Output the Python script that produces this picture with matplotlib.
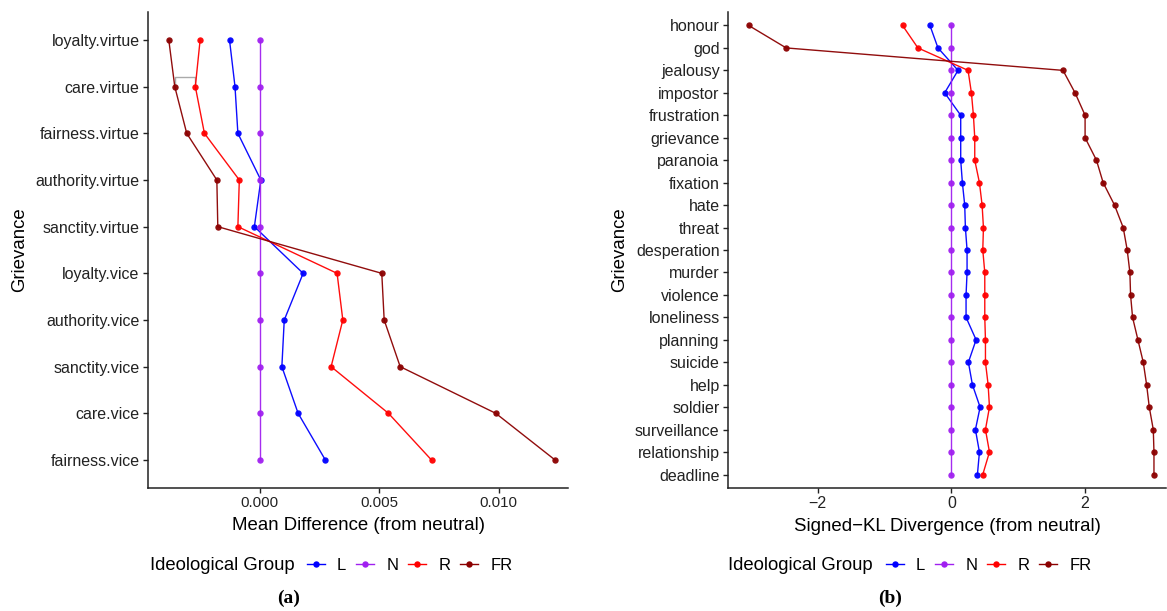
import matplotlib
matplotlib.use("Agg")
import matplotlib.pyplot as plt
from matplotlib.lines import Line2D

plt.rcParams['font.family'] = ['Liberation Sans', 'DejaVu Sans']

# ---------------- data ----------------
moral_cats = ["loyalty.virtue", "care.virtue", "fairness.virtue", "authority.virtue",
              "sanctity.virtue", "loyalty.vice", "authority.vice", "sanctity.vice",
              "care.vice", "fairness.vice"]
moral_L = [-0.00126, -0.00103, -0.00091, 0.00005, -0.00022, 0.00182, 0.00103, 0.00093, 0.00161, 0.00275]
moral_N = [0, 0, 0, 0, 0, 0, 0, 0, 0, 0]
moral_R = [-0.00249, -0.00269, -0.00231, -0.00085, -0.00091, 0.00324, 0.00348, 0.00299, 0.00539, 0.00719]
moral_FR = [-0.00380, -0.00355, -0.00305, -0.00179, -0.00175, 0.00511, 0.00521, 0.00588, 0.00988, 0.01236]

griev_cats = ["honour", "god", "jealousy", "impostor", "frustration", "grievance", "paranoia",
              "fixation", "hate", "threat", "desperation", "murder", "violence", "loneliness",
              "planning", "suicide", "help", "soldier", "surveillance", "relationship", "deadline"]
griev_L = [-0.32, -0.20, 0.10, -0.10, 0.14, 0.14, 0.14, 0.165, 0.20, 0.21, 0.235, 0.235, 0.22,
           0.22, 0.37, 0.255, 0.315, 0.43, 0.36, 0.42, 0.39]
griev_N = [0.0] * 21
griev_R = [-0.73, -0.50, 0.25, 0.30, 0.33, 0.35, 0.35, 0.42, 0.46, 0.48, 0.47, 0.50, 0.50,
           0.50, 0.51, 0.51, 0.55, 0.57, 0.51, 0.57, 0.47]
griev_FR = [-3.03, -2.47, 1.67, 1.85, 2.00, 2.00, 2.17, 2.27, 2.44, 2.57, 2.63, 2.67, 2.68,
            2.71, 2.79, 2.87, 2.92, 2.96, 3.02, 3.03, 3.03]

groups = ["L", "N", "R", "FR"]
colors = {"L": "#0000FF", "N": "#A020F0", "R": "#FF0000", "FR": "#8B0000"}

W, H = 1167, 611
fig = plt.figure(figsize=(W / 100, H / 100), dpi=100)

def axes_px(x0, y0, x1, y1):
    return fig.add_axes([x0 / W, 1 - y1 / H, (x1 - x0) / W, (y1 - y0) / H])

axA = axes_px(148, 12, 568, 488)
axB = axes_px(728, 12, 1166, 488)

def draw(ax, cats, series, xlim, xticks, xticklabels, xlabel, xtick_fs):
    ys = list(range(len(cats)))
    for g in groups:
        ax.plot(series[g], ys, color=colors[g], lw=1.0, marker="o", ms=4.6,
                markeredgewidth=0, label=g, alpha=0.95)
    ax.set_yticks(ys)
    ax.set_yticklabels(cats, fontsize=11.5, color="#222222")
    ax.set_ylim(len(cats) - 1 + 0.6, -0.6)
    ax.set_xlim(*xlim)
    ax.set_xticks(xticks)
    ax.set_xticklabels(xticklabels, fontsize=xtick_fs, color="#222222")
    ax.set_xlabel(xlabel, fontsize=13.4, labelpad=5)
    ax.set_ylabel("Grievance", fontsize=13.4, labelpad=5)
    for s in ["top", "right"]:
        ax.spines[s].set_visible(False)
    for s in ["left", "bottom"]:
        ax.spines[s].set_linewidth(1.1)
        ax.spines[s].set_color("#222222")
    ax.tick_params(length=3.5, width=1.0, color="#222222", pad=2.5)

draw(axA, moral_cats, {"L": moral_L, "N": moral_N, "R": moral_R, "FR": moral_FR},
     (-0.00467, 0.0129), [0.0, 0.005, 0.010], ["0.000", "0.005", "0.010"],
     "Mean Difference (from neutral)", 10.8)
draw(axB, griev_cats, {"L": griev_L, "N": griev_N, "R": griev_R, "FR": griev_FR},
     (-3.34, 3.21), [-2, 0, 2], ["\u22122", "0", "2"],
     "Signed\u2212KL Divergence (from neutral)", 11.5)

# small grey bracket artifact near care.virtue
i = moral_cats.index("care.virtue")
axA.plot([moral_FR[i], moral_FR[i], moral_R[i], moral_R[i]], [i, i - 0.2, i - 0.2, i],
         color="#aaaaaa", lw=1.0, zorder=1)

# legends
def legend(title_x, leg_x, y):
    fig.text(title_x / W, 1 - y / H, "Ideological Group", fontsize=13.3, va="center", ha="left")
    handles = [Line2D([], [], color=colors[g], lw=1.0, marker="o", ms=4.6, markeredgewidth=0)
               for g in groups]
    fig.legend(handles, groups, loc="center left", bbox_to_anchor=(leg_x / W, 1 - y / H),
               ncol=4, frameon=False, fontsize=12, handlelength=1.05, handletextpad=0.75,
               columnspacing=0.6, borderaxespad=0, borderpad=0)

legend(150, 307, 565)
legend(728, 886, 565)

fig.text(289 / W, 1 - 598 / H, "(a)", fontsize=14, fontweight="bold",
         family="Liberation Serif", ha="center", va="center")
fig.text(890 / W, 1 - 598 / H, "(b)", fontsize=14, fontweight="bold",
         family="Liberation Serif", ha="center", va="center")

fig.savefig("out.png", dpi=100)
